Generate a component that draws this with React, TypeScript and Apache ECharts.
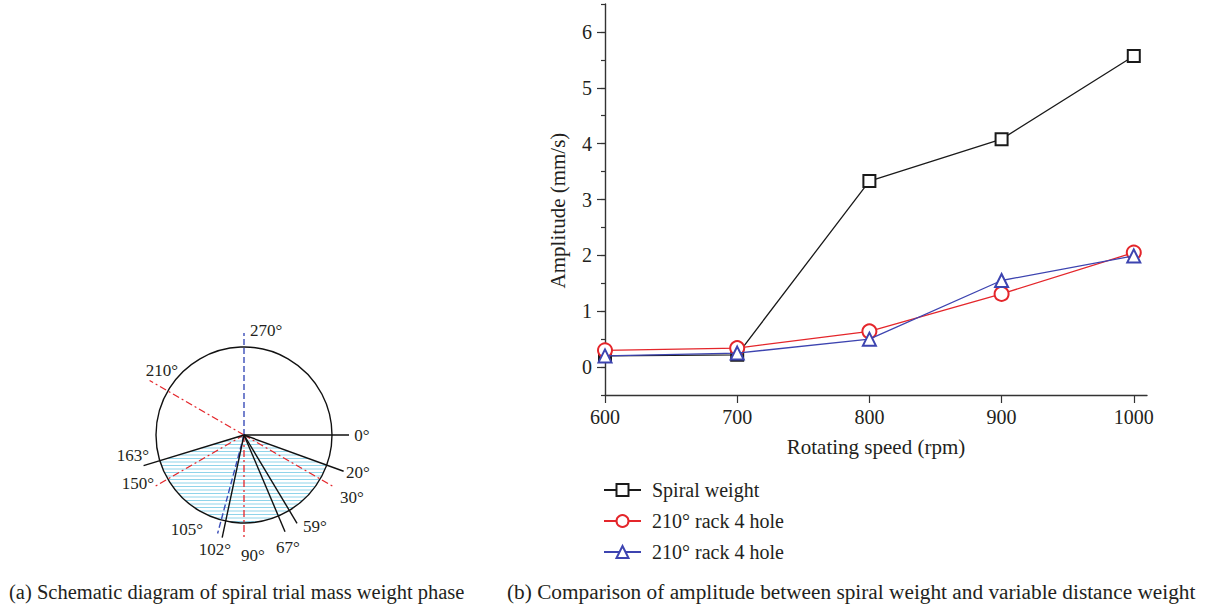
import React, { useEffect, useRef } from "react";
import * as echarts from "echarts";

// ---------- Data (panel b) ----------
const speeds = [600, 700, 800, 900, 1000];
const spiralWeight = [0.2, 0.22, 3.33, 4.08, 5.57];
const rack4HoleA = [0.3, 0.34, 0.64, 1.31, 2.05];
const rack4HoleB = [0.2, 0.25, 0.5, 1.55, 1.99];
const legendLabels = ["Spiral weight", "210° rack 4 hole", "210° rack 4 hole"];
const xTickValues = [600, 700, 800, 900, 1000];
const yTickValues = [0, 1, 2, 3, 4, 5, 6];

// ---------- Data (panel a: phase schematic, degrees clockwise from right) ----------
const solidPhases = [0, 20, 59, 67, 102, 163];
const bluePhases = [270, 105];
const redPhases = [210, 30, 150, 90];
const hatchStart = 20;
const hatchEnd = 163;
const phaseLabels = ["270°", "210°", "0°", "163°", "20°", "150°", "30°", "105°", "59°", "102°", "90°", "67°"];

const captionA = "(a) Schematic diagram of spiral trial mass weight phase";
const captionB = "(b) Comparison of amplitude between spiral weight and variable distance weight";

// ---------- Layout / style ----------
const SERIF = "Liberation Serif";
const TXT = "#231f20";
const CX = 244;
const CY = 435;
const R = 88;
const solidLen: Record<number, number> = { 0: 105, 20: 106, 59: 103, 67: 105, 102: 105, 163: 105 };
const blueLen: Record<number, number> = { 270: 102, 105: 102 };
const redLen: Record<number, number> = { 210: 109, 30: 102, 150: 105, 90: 102 };
const labelPos: Record<string, [number, number, string]> = {
  "270°": [250, 330, "left"],
  "210°": [162, 370, "center"],
  "0°": [362, 435, "center"],
  "163°": [133, 455, "center"],
  "20°": [358, 472, "center"],
  "150°": [138, 483, "center"],
  "30°": [352, 497, "center"],
  "105°": [187, 529, "center"],
  "59°": [315, 526, "center"],
  "102°": [215, 549, "center"],
  "90°": [253, 555, "center"],
  "67°": [288, 547, "center"],
};

const rad = (d: number) => (d * Math.PI) / 180;
const rayEnd = (deg: number, len: number) => [CX + len * Math.cos(rad(deg)), CY + len * Math.sin(rad(deg))];

function buildDiagram(): any[] {
  const els: any[] = [];
  const cotL = Math.cos(rad(hatchEnd)) / Math.sin(rad(hatchEnd));
  const cotR = Math.cos(rad(hatchStart)) / Math.sin(rad(hatchStart));
  for (let y = CY + 2.5; y < CY + R - 0.5; y += 3.5) {
    const dy = y - CY;
    const half = Math.sqrt(R * R - dy * dy);
    const xl = Math.max(CX + dy * cotL, CX - half);
    const xr = Math.min(CX + dy * cotR, CX + half);
    if (xr > xl) {
      els.push({
        type: "line",
        silent: true,
        shape: { x1: xl, y1: y, x2: xr, y2: y },
        style: { stroke: "#8fd4ea", lineWidth: 1 },
      });
    }
  }
  els.push({
    type: "circle",
    shape: { cx: CX, cy: CY, r: R },
    style: { fill: "none", stroke: "#111", lineWidth: 1.4 },
  });
  redPhases.forEach((p) => {
    const [x, y] = rayEnd(p, redLen[p]);
    els.push({
      type: "line",
      shape: { x1: CX, y1: CY, x2: x, y2: y },
      style: { stroke: "#e4262b", lineWidth: 1.3, lineDash: [7, 3, 2, 3] },
    });
  });
  bluePhases.forEach((p) => {
    const [x, y] = rayEnd(p, blueLen[p]);
    els.push({
      type: "line",
      shape: { x1: CX, y1: CY, x2: x, y2: y },
      style: { stroke: "#3b4db8", lineWidth: 1.4, lineDash: [6, 3] },
    });
  });
  solidPhases.forEach((p) => {
    const [x, y] = rayEnd(p, solidLen[p]);
    els.push({
      type: "line",
      shape: { x1: CX, y1: CY, x2: x, y2: y },
      style: { stroke: "#111", lineWidth: 1.4 },
    });
  });
  phaseLabels.forEach((t) => {
    const [x, y, align] = labelPos[t];
    els.push({
      type: "text",
      x,
      y,
      style: {
        text: t,
        fill: TXT,
        fontFamily: SERIF,
        fontSize: 17,
        textAlign: align,
        textVerticalAlign: "middle",
      },
    });
  });
  els.push({
    type: "text",
    x: 9,
    y: 592,
    style: { text: captionA, fill: TXT, fontFamily: SERIF, fontSize: 20.5, textAlign: "left", textVerticalAlign: "middle" },
  });
  els.push({
    type: "text",
    x: 507,
    y: 592,
    style: { text: captionB, fill: TXT, fontFamily: SERIF, fontSize: 21.3, textAlign: "left", textVerticalAlign: "middle" },
  });
  return els;
}

export default function App() {
  const ref = useRef<HTMLDivElement>(null);
  useEffect(() => {
    if (!ref.current) return;
    const chart = echarts.init(ref.current, null, { renderer: "svg" });
    const axisLine = { show: true, onZero: false, lineStyle: { color: "#333", width: 1.4 } };
    const mk = (vals: number[]) => speeds.map((s, i) => [s, vals[i]]);
    chart.setOption({
      animation: false,
      backgroundColor: "#fff",
      textStyle: { fontFamily: SERIF },
      grid: { left: 605, right: 60, top: 4, bottom: 215, containLabel: false },
      xAxis: {
        type: "value",
        min: 600,
        max: 1010,
        splitLine: { show: false },
        axisLine,
        axisTick: { show: true, inside: false, length: 8, customValues: xTickValues, lineStyle: { color: "#333", width: 1.2 } },
        axisLabel: {
          customValues: xTickValues,
          formatter: (v: number) => String(v),
          margin: 12,
          color: TXT,
          fontSize: 20,
          fontFamily: SERIF,
        },
        name: "Rotating speed (rpm)",
        nameLocation: "middle",
        nameGap: 41,
        nameTextStyle: { color: TXT, fontSize: 21, fontFamily: SERIF },
      },
      yAxis: [
        {
          type: "value",
          position: "left",
          min: -0.5,
          max: 6.5,
          interval: 0.5,
          splitLine: { show: false },
          axisLine,
          axisTick: { show: true, inside: false, length: 4, lineStyle: { color: "#333", width: 1.2 } },
          axisLabel: { show: false },
        },
        {
          type: "value",
          position: "left",
          min: -0.5,
          max: 6.5,
          splitLine: { show: false },
          axisLine: { show: false, onZero: false },
          axisTick: { show: true, inside: false, length: 8, customValues: yTickValues, lineStyle: { color: "#333", width: 1.2 } },
          axisLabel: { customValues: yTickValues, margin: 13, color: TXT, fontSize: 20, fontFamily: SERIF },
          name: "Amplitude (mm/s)",
          nameLocation: "middle",
          nameGap: 37,
          nameTextStyle: { color: TXT, fontSize: 21, fontFamily: SERIF, padding: [0, 22, 0, 0] },
        },
      ],
      legend: {
        orient: "vertical",
        left: 603,
        top: 480,
        padding: 0,
        itemWidth: 37,
        itemHeight: 15,
        itemGap: 11,
        data: ["s0", "s1", "s2"],
        formatter: (n: string) => legendLabels[Number(n.slice(1))],
        textStyle: { color: TXT, fontSize: 20, fontFamily: SERIF, lineHeight: 20, padding: [0, 0, 0, 6] },
      },
      series: [
        {
          name: "s0",
          type: "line",
          data: mk(spiralWeight),
          symbol: "emptyRect",
          symbolSize: 12,
          color: "#1a1a1a",
          lineStyle: { color: "#1a1a1a", width: 1.3 },
          itemStyle: { color: "#1a1a1a", borderWidth: 1.5 },
          z: 3,
        },
        {
          name: "s1",
          type: "line",
          data: mk(rack4HoleA),
          symbol: "emptyCircle",
          symbolSize: 14,
          color: "#e4262b",
          lineStyle: { color: "#e4262b", width: 1.3 },
          itemStyle: { color: "#e4262b", borderWidth: 1.5 },
          z: 4,
        },
        {
          name: "s2",
          type: "line",
          data: mk(rack4HoleB),
          symbol: "emptyTriangle",
          symbolSize: 13,
          color: "#3d44b0",
          lineStyle: { color: "#3d44b0", width: 1.3 },
          itemStyle: { color: "#3d44b0", borderWidth: 1.5 },
          z: 5,
        },
      ],
      graphic: buildDiagram(),
    });
    return () => chart.dispose();
  }, []);
  return (
    <div
      ref={ref}
      style={{ position: "absolute", left: 0, top: 0, width: 1207, height: 610, background: "#fff" }}
    />
  );
}
